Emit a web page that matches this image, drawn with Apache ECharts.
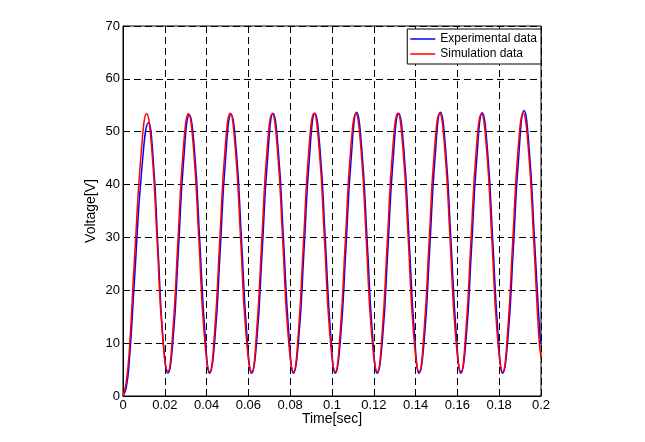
<!DOCTYPE html>
<html>
<head>
<meta charset="utf-8" />
<title>Voltage</title>
<script src="https://cdn.jsdelivr.net/npm/echarts@6/dist/echarts.min.js"></script>
<style>
	html,
	body {
		margin: 0;
		padding: 0;
		background: #fff;
	}
	#chart {
		width: 645px;
		height: 442px;
	}
</style>
</head>
<body>
<div id="chart"></div>
<script>
// x ticks / y ticks
const xTicks = [0, 0.02, 0.04, 0.06, 0.08, 0.1, 0.12, 0.14, 0.16, 0.18, 0.2];
const yTicks = [0, 10, 20, 30, 40, 50, 60, 70];

// Simulation data (red)
const timeSim = [
	0, 0.0015, 0.003, 0.0055, 0.0088, 0.0113, 0.0138, 0.0163, 0.0188,
	0.0215, 0.0238, 0.0263, 0.0288, 0.0313, 0.0338, 0.0363, 0.0388,
	0.0415, 0.0438, 0.0463, 0.0488, 0.0513, 0.0538, 0.0563, 0.0588,
	0.0616, 0.0639, 0.0664, 0.0689, 0.0714, 0.0739, 0.0764, 0.0789,
	0.0816, 0.0839, 0.0864, 0.0889, 0.0914, 0.0939, 0.0964, 0.0989,
	0.1016, 0.1039, 0.1064, 0.1089, 0.1114, 0.1139, 0.1164, 0.1189,
	0.1217, 0.124, 0.1265, 0.129, 0.1315, 0.134, 0.1365, 0.139,
	0.1417, 0.144, 0.1465, 0.149, 0.1515, 0.154, 0.1565, 0.159,
	0.1617, 0.164, 0.1665, 0.169, 0.1715, 0.174, 0.1765, 0.179,
	0.1817, 0.184, 0.1865, 0.189, 0.1915, 0.194, 0.1965, 0.199,
	0.2,
];
const voltSim = [
	0, 2.5, 8.5, 26, 46.5, 53.4, 46.5, 29.5, 12,
	4.7, 12, 29.5, 46.5, 53.4, 46.5, 29.5, 12,
	4.6, 12, 29.5, 46.5, 53.5, 46.5, 29.5, 12,
	4.6, 12, 29.5, 46.5, 53.4, 46.5, 29.5, 12,
	4.6, 12, 29.5, 46.5, 53.5, 46.5, 29.5, 12,
	4.6, 12, 29.5, 46.5, 53.4, 46.5, 29.5, 12,
	4.6, 12, 29.5, 46.5, 53.5, 46.5, 29.5, 12,
	4.6, 12, 29.5, 46.5, 53.5, 46.5, 29.5, 12,
	4.6, 12, 29.5, 46.5, 53.4, 46.5, 29.5, 12,
	4.6, 12, 29.5, 46.5, 53.5, 46.5, 29.5, 11,
	7.3,
];

// Experimental data (blue)
const timeExp = [
	0, 0.0015, 0.003, 0.0055, 0.0088, 0.0122, 0.0145, 0.0168, 0.0192,
	0.0215, 0.024, 0.0265, 0.029, 0.0317, 0.0342, 0.0367, 0.0392,
	0.0415, 0.044, 0.0465, 0.049, 0.0517, 0.0542, 0.0567, 0.0592,
	0.0616, 0.0641, 0.0666, 0.0691, 0.0718, 0.0743, 0.0768, 0.0793,
	0.0816, 0.0841, 0.0866, 0.0891, 0.0918, 0.0943, 0.0968, 0.0993,
	0.1016, 0.1041, 0.1066, 0.1091, 0.1118, 0.1143, 0.1168, 0.1193,
	0.1217, 0.1242, 0.1267, 0.1292, 0.1319, 0.1344, 0.1369, 0.1394,
	0.1417, 0.1442, 0.1467, 0.1492, 0.1519, 0.1544, 0.1569, 0.1594,
	0.1617, 0.1642, 0.1667, 0.1692, 0.1719, 0.1744, 0.1769, 0.1794,
	0.1817, 0.1842, 0.1867, 0.1892, 0.1919, 0.1944, 0.1969, 0.1994,
	0.2,
];
const voltExp = [
	0, 1.5, 6.5, 22, 42, 51.7, 44.5, 27.5, 10.5,
	4.3, 11, 27.5, 44.5, 53.2, 46.5, 29.5, 12,
	4.3, 11, 27.5, 44.5, 53.3, 46.5, 29.5, 12,
	4.3, 11, 27.5, 44.5, 53.5, 46.5, 29.5, 12,
	4.3, 11, 27.5, 44.5, 53.5, 46.5, 29.5, 12,
	4.3, 11, 27.5, 44.5, 53.7, 46.5, 29.5, 12,
	4.3, 11, 27.5, 44.5, 53.5, 46.5, 29.5, 12,
	4.3, 11, 27.5, 44.5, 53.7, 46.5, 29.5, 12,
	4.3, 11, 27.5, 44.5, 53.6, 46.5, 29.5, 12,
	4.3, 11, 27.5, 44.5, 54, 46.5, 29.5, 12,
	9.8,
];

const font = "'Liberation Sans', Arial, sans-serif";

const pairs = (t, v) => t.map((x, i) => [x, v[i]]);

const option = {
	animation: false,
	backgroundColor: "#fff",
	grid: {
		left: 123,
		right: 104,
		top: 26,
		bottom: 46,
		show: true,
		borderColor: "#000",
		borderWidth: 1,
		backgroundColor: "transparent",
	},
	legend: {
		orient: "vertical",
		right: 104,
		top: 29,
		padding: [4, 4, 4, 3],
		itemGap: 3,
		itemWidth: 25,
		itemHeight: 1.5,
		icon: "rect",
		borderColor: "#000",
		borderWidth: 1,
		borderRadius: 0,
		backgroundColor: "#fff",
		textStyle: {
			fontFamily: font,
			fontSize: 12,
			color: "#000",
		},
		data: ["Experimental data", "Simulation data"],
	},
	xAxis: {
		type: "value",
		min: xTicks[0],
		max: xTicks[xTicks.length - 1],
		interval: 0.02,
		name: "Time[sec]",
		nameLocation: "middle",
		nameGap: 16,
		nameMoveOverlap: false,
		nameTextStyle: { fontFamily: font, fontSize: 14, color: "#000" },
		axisLine: { show: true, lineStyle: { color: "#000", width: 1 } },
		axisTick: { show: true, inside: true, length: 5, lineStyle: { color: "#000" } },
		axisLabel: {
			fontFamily: font,
			fontSize: 13,
			color: "#000",
			margin: 3,
			formatter: v => String(Number(v.toFixed(2))),
		},
		splitLine: { show: true, lineStyle: { color: "#000", type: [7, 4], width: 1 } },
	},
	yAxis: {
		type: "value",
		min: yTicks[0],
		max: yTicks[yTicks.length - 1],
		interval: 10,
		name: "Voltage[V]",
		nameLocation: "middle",
		nameGap: 25,
		nameMoveOverlap: false,
		nameTextStyle: { fontFamily: font, fontSize: 14, color: "#000" },
		axisLine: { show: true, lineStyle: { color: "#000", width: 1 } },
		axisTick: { show: true, inside: true, length: 5, lineStyle: { color: "#000" } },
		axisLabel: { fontFamily: font, fontSize: 13, color: "#000", margin: 3 },
		splitLine: { show: true, lineStyle: { color: "#000", type: [7, 4], width: 1 } },
	},
	series: [
		{
			name: "Experimental data",
			type: "line",
			data: pairs(timeExp, voltExp),
			showSymbol: false,
			symbol: "none",
			smooth: 0.5,
			color: "#0000ff",
			lineStyle: { color: "#0000ff", width: 1.5 },
			z: 3,
		},
		{
			name: "Simulation data",
			type: "line",
			data: pairs(timeSim, voltSim),
			showSymbol: false,
			symbol: "none",
			smooth: 0.5,
			color: "#ff0000",
			lineStyle: { color: "#ff0000", width: 1.5 },
			z: 4,
		},
	],
};

const myEcharts = echarts.init(document.getElementById("chart"));
myEcharts.setOption(option);
</script>
</body>
</html>
